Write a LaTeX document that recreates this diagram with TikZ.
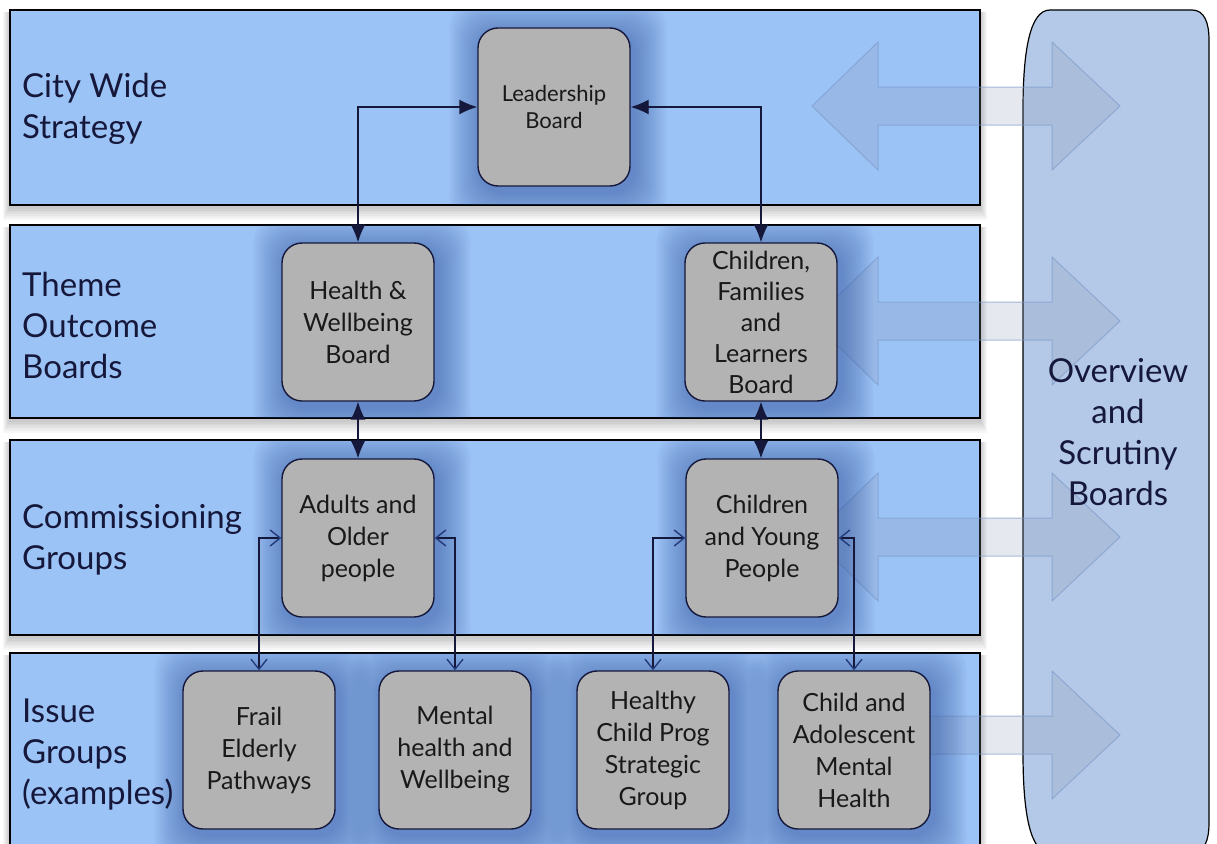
\documentclass[tikz,border=0pt]{standalone}
\usepackage{fontspec}
\setmainfont{Lato}
\usetikzlibrary{arrows.meta,calc}
\definecolor{bandblue}{HTML}{9CC3F6}
\definecolor{ovblue}{HTML}{B4C9E7}
\definecolor{boxgray}{HTML}{B3B3B3}
\definecolor{navy}{HTML}{15183A}
\definecolor{barbblue}{HTML}{243A7A}
\definecolor{glowblue}{HTML}{34579F}
\definecolor{arrowfill}{HTML}{8A98B4}
\definecolor{arrowline}{HTML}{7C9BCB}
\pgfdeclarelayer{bands}
\pgfdeclarelayer{arrows}
\pgfdeclarelayer{glow}
\pgfsetlayers{bands,arrows,glow,main}
\tikzset{
  gbox/.style={draw=navy, line width=1.4pt, fill=boxgray, rounded corners=20pt,
    minimum width=152pt, minimum height=158pt, align=center, inner sep=2pt,
    font=\fontsize{25}{32}\selectfont, text=black!90},
  lbl/.style={anchor=west, align=left, font=\fontsize{33}{41}\selectfont, text=navy, inner sep=0pt},
  band/.style={draw=black, line width=1.2pt, fill=bandblue},
  bigarrow/.style={fill=arrowfill, fill opacity=0.22, draw=arrowline, draw opacity=0.65, line width=1pt},
  solidconn/.style={draw=navy, line width=1.4pt,
    {Latex[length=18pt,width=15pt]}-{Latex[length=18pt,width=15pt]}},
  barbconn/.style={draw=navy, line width=1.4pt,
    {Straight Barb[length=10pt,width=16pt,color=barbblue]}-{Straight Barb[length=10pt,width=16pt,color=barbblue]}}
}
\begin{document}
\begin{tikzpicture}[x=1pt,y=-1pt]
\useasboundingbox (0,0) rectangle (1217,843);

% bands with soft shadows
\begin{pgfonlayer}{bands}
\fill[white] (0,0) rectangle (1217,843);
\foreach \ya/\yb in {10/205,225/418,440/635,653/860}{
  \foreach \i in {1,...,7}{
    \fill[black, opacity=0.03] (10-\i,\ya+2) rectangle (980+\i,\yb+2+1.8*\i);
  }
  \draw[band] (10,\ya) rectangle (980,\yb);
}
% overview board shape
\draw[fill=ovblue, line width=1.2pt, draw=black]
  (1023,110) .. controls (1023,50) and (1030,10) .. (1050,10)
  -- (1192,10) .. controls (1204,10) and (1209,22) .. (1209,40)
  -- (1209,823) .. controls (1209,841) and (1204,853) .. (1192,853)
  -- (1050,853) .. controls (1030,853) and (1023,813) .. (1023,753) -- cycle;
\end{pgfonlayer}

% translucent big arrows
\begin{pgfonlayer}{arrows}
\foreach \cy in {106,321,537}{
  \path[bigarrow] (812,\cy) -- (878,\cy-64) -- (878,\cy-19) -- (1052,\cy-19) -- (1052,\cy-64)
    -- (1120,\cy) -- (1052,\cy+64) -- (1052,\cy+19) -- (878,\cy+19) -- (878,\cy+64) -- cycle;
}
\path[bigarrow] (900,716) -- (1052,716) -- (1052,671) -- (1120,735) -- (1052,799)
  -- (1052,754) -- (900,754) -- cycle;
\end{pgfonlayer}

% row labels
\node[lbl] (l1) at (22,109) {City Wide\\Strategy};
\node[lbl] (l2) at (22,325) {Theme\\Outcome\\Boards};
\node[lbl] (l3) at (22,540) {Commissioning\\Groups};
\node[lbl] (l4) at (22,754) {Issue\\Groups\\(examples)};
\node[font=\fontsize{33}{41}\selectfont, text=navy, align=center] (ovt) at (1118,432)
  {Overview\\and\\Scrutiny\\Boards};

% boxes
\node[gbox, font=\fontsize{22}{27}\selectfont] (lead) at (554,107) {Leadership\\Board};
\node[gbox] (hw) at (358,322) {Health \&\\Wellbeing\\Board};
\node[gbox, font=\fontsize{25}{31}\selectfont] (cfl) at (761,322) {Children,\\Families\\and\\Learners\\Board};
\node[gbox] (aop) at (358,538) {Adults and\\Older\\people};
\node[gbox] (cyp) at (762,538) {Children\\and Young\\People};
\node[gbox] (frail) at (259,750) {Frail\\Elderly\\Pathways};
\node[gbox] (mental) at (455,750) {Mental\\health and\\Wellbeing};
\node[gbox] (healthy) at (653,750) {Healthy\\Child Prog\\Strategic\\Group};
\node[gbox] (camh) at (854,750) {Child and\\Adolescent\\Mental\\Health};

% blue glows around boxes, kept inside the bands
\begin{pgfonlayer}{glow}
\begin{scope}
\clip (10,10) rectangle (980,205) (10,225) rectangle (980,418)
      (10,440) rectangle (980,635) (10,653) rectangle (980,860);
\foreach \n in {lead,hw,cfl,aop,cyp,frail,mental,healthy,camh}{
  \foreach \i in {1,...,16}{
    \fill[glowblue, opacity=0.04, rounded corners=26pt]
      ($(\n.south west)+(-2*\i+4,2*\i+6)$) rectangle ($(\n.north east)+(2*\i+4,-2*\i+6)$);
  }
}
\end{scope}
\end{pgfonlayer}

% connectors
\draw[solidconn] (lead.west) -| (hw.north);
\draw[solidconn] (lead.east) -| (cfl.north);
\draw[solidconn] (hw.south) -- (aop.north);
\draw[solidconn] (cfl.south) -- (cfl.south |- cyp.north);
\draw[barbconn] (aop.west) -| (frail.north);
\draw[barbconn] (aop.east) -| (mental.north);
\draw[barbconn] (cyp.west) -| (healthy.north);
\draw[barbconn] (cyp.east) -| (camh.north);
\end{tikzpicture}
\end{document}
